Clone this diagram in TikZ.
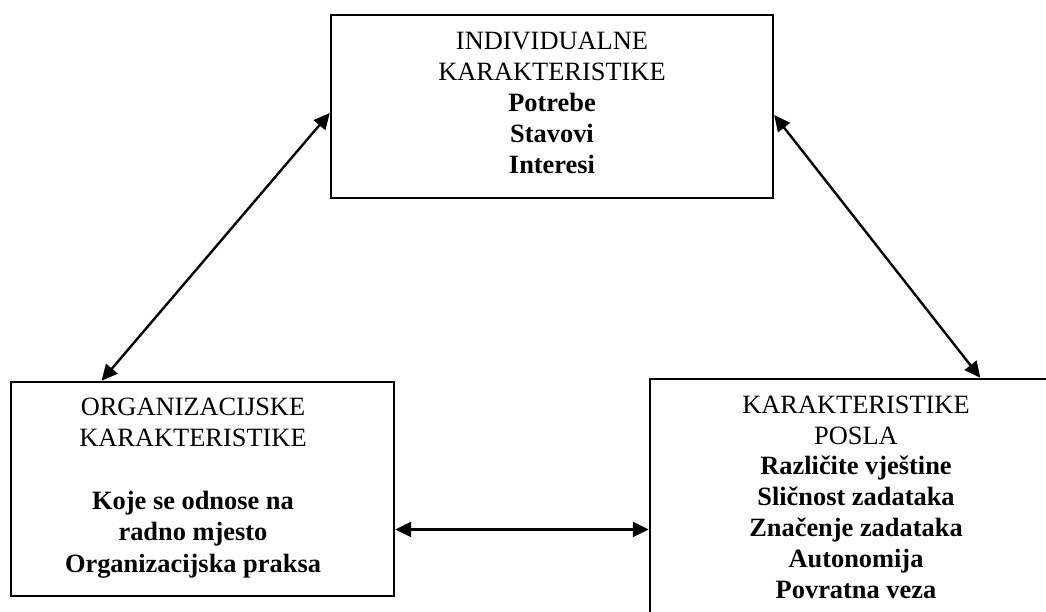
\documentclass[tikz,border=0pt]{standalone}
\usepackage{fontspec}
\setmainfont{Liberation Serif}
\usetikzlibrary{arrows.meta,calc}

\tikzset{
	box/.style={draw, line width=2.4pt, inner sep=0pt},
	txt/.style={align=center, inner sep=0pt, font=\fontsize{26.4}{30.8}\selectfont},
	link/.style={{Triangle[length=16pt,width=15pt]}-{Triangle[length=16pt,width=15pt]}, line width=2.4pt}
}

\begin{document}
\begin{tikzpicture}[x=1pt, y=-1pt]
		\path[use as bounding box, clip] (0, 0) rectangle (1046, 611);

		% the three boxes
		\node[box, minimum width=442pt, minimum height=183pt] (indiv) at (552, 106.5) {};
		\node[box, minimum width=383pt, minimum height=214pt] (org) at (202.5, 489) {};
		\node[box, minimum width=412pt, minimum height=241pt] (posao) at (856, 499.5) {};

		\node[txt] (indivtxt) at (552, 103) {INDIVIDUALNE\\KARAKTERISTIKE\\\textbf{Potrebe}\\\textbf{Stavovi}\\\textbf{Interesi}};
		\node[txt, font=\fontsize{26.4}{31.4}\selectfont] (orgtxt) at (193, 488) {ORGANIZACIJSKE\\KARAKTERISTIKE\\[31.4pt]\textbf{Koje se odnose na}\\\textbf{radno mjesto}\\\textbf{Organizacijska praksa}};
		\node[txt] (posaotxt) at (856, 497) {KARAKTERISTIKE\\POSLA\\\textbf{Različite vještine}\\\textbf{Sličnost zadataka}\\\textbf{Značenje zadataka}\\\textbf{Autonomija}\\\textbf{Povratna veza}};

		\coordinate (il) at ($(indiv.north west)!0.535!(indiv.south west)$);
		\coordinate (ir) at ($(indiv.north east)!0.546!(indiv.south east)$);
		\coordinate (ot) at ($(org.north west)!0.238!(org.north east)$);
		\coordinate (pt) at ($(posao.north west)!0.80!(posao.north east)$);
		\coordinate (or) at ($(org.north east)!0.687!(org.south east)$);

		\draw[link] (il) -- (ot);
		\draw[link] (ir) -- (pt);
		\draw[link] (or) -- (or -| posao.west);
	\end{tikzpicture}
\end{document}
